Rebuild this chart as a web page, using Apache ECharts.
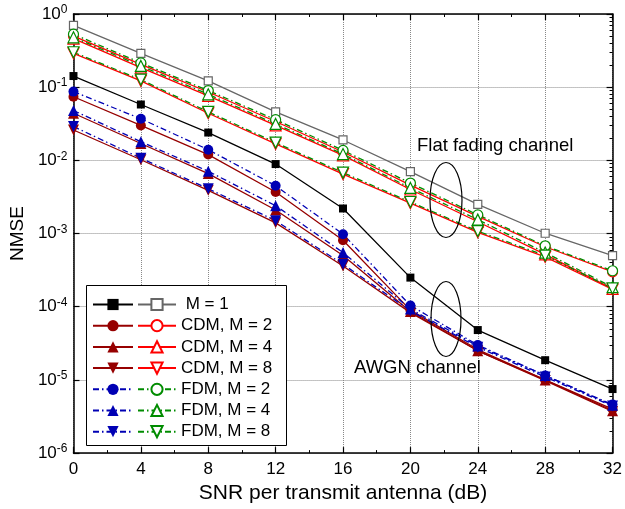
<!DOCTYPE html>
<html>
<head>
<meta charset="utf-8">
<script src="https://cdn.jsdelivr.net/npm/echarts@6/dist/echarts.min.js"></script>
<style>
  html, body { margin: 0; padding: 0; background: #fff; }
  #chart { width: 625px; height: 509px; }
</style>
</head>
<body>
<div id="chart"></div>
<script>
// SNR points (dB)
var snr = [0, 4, 8, 12, 16, 20, 24, 28, 32]

// AWGN channel (filled markers)
var m1Awgn = [0.142, 0.058, 0.024, 0.0089, 0.0022, 0.00025, 4.8e-5, 1.86e-5, 7.5e-6]
var cdm2Awgn = [0.074, 0.030, 0.012, 0.0037, 0.00081, 9.0e-5, 2.6e-5, 1.0e-5, 4.0e-6]
var cdm4Awgn = [0.044, 0.017, 0.0066, 0.0021, 0.00050, 8.6e-5, 2.5e-5, 1.0e-5, 3.8e-6]
var cdm8Awgn = [0.026, 0.0102, 0.0039, 0.0014, 0.00036, 8.3e-5, 2.5e-5, 9.8e-6, 3.7e-6]
var fdm2Awgn = [0.087, 0.037, 0.0140, 0.0045, 0.00098, 1.04e-4, 3.0e-5, 1.15e-5, 4.6e-6]
var fdm4Awgn = [0.048, 0.018, 0.0071, 0.0024, 0.00055, 9.3e-5, 2.9e-5, 1.15e-5, 4.5e-6]
var fdm8Awgn = [0.029, 0.0107, 0.0041, 0.0015, 0.00038, 8.8e-5, 2.8e-5, 1.1e-5, 4.4e-6]

// flat fading channel (open markers)
var m1Flat = [0.70, 0.29, 0.122, 0.046, 0.019, 0.0070, 0.0025, 0.00101, 0.0005]
var cdm2Flat = [0.50, 0.205, 0.086, 0.034, 0.0130, 0.0046, 0.00172, 0.00066, 0.00030]
var cdm4Flat = [0.46, 0.185, 0.076, 0.030, 0.0117, 0.0040, 0.00145, 0.00052, 0.000175]
var cdm8Flat = [0.29, 0.122, 0.044, 0.0168, 0.0065, 0.0026, 0.00104, 0.00048, 0.000172]
var fdm2Flat = [0.53, 0.215, 0.090, 0.036, 0.0137, 0.0049, 0.00180, 0.00068, 0.00031]
var fdm4Flat = [0.48, 0.195, 0.080, 0.0315, 0.0122, 0.0042, 0.00155, 0.00055, 0.000185]
var fdm8Flat = [0.30, 0.127, 0.046, 0.0175, 0.0068, 0.0027, 0.00108, 0.00050, 0.000178]

var flatNames = ['M = 1', 'CDM, M = 2', 'CDM, M = 4', 'CDM, M = 8', 'FDM, M = 2', 'FDM, M = 4', 'FDM, M = 8']
var awgnNames = flatNames.map(function (n) { return 'awgn ' + n })

var font = 'Liberation Sans, Arial, sans-serif'
var dashDot = [6, 3, 1.5, 3]

function pairs (vals) {
  return vals.map(function (v, i) { return [snr[i], v] })
}

function line (name, vals, color, symbol, size, rotate, filled, dashed) {
  return {
    name: name,
    type: 'line',
    data: pairs(vals),
    symbol: symbol,
    symbolSize: size,
    symbolRotate: rotate,
    showAllSymbol: true,
    z: filled ? 3 : 2,
    lineStyle: { color: color, width: 1.3, type: dashed ? dashDot : 'solid' },
    itemStyle: {
      color: filled ? color : '#fff',
      borderColor: color,
      borderWidth: filled ? 0 : 1.2,
      opacity: 1
    },
    emphasis: { disabled: true },
    animation: false
  }
}

var darkRed = '#960000'
var blue = '#0000b4'
var red = '#ff0000'
var green = '#008c00'

var series = [
  line(awgnNames[0], m1Awgn, '#000', 'rect', 8, 0, true, false),
  line(awgnNames[1], cdm2Awgn, darkRed, 'circle', 10, 0, true, false),
  line(awgnNames[2], cdm4Awgn, darkRed, 'triangle', 11, 0, true, false),
  line(awgnNames[3], cdm8Awgn, darkRed, 'triangle', 11, 180, true, false),
  line(awgnNames[4], fdm2Awgn, blue, 'circle', 10, 0, true, true),
  line(awgnNames[5], fdm4Awgn, blue, 'triangle', 11, 0, true, true),
  line(awgnNames[6], fdm8Awgn, blue, 'triangle', 11, 180, true, true),
  line(flatNames[0], m1Flat, '#666', 'rect', 8, 0, false, false),
  line(flatNames[1], cdm2Flat, red, 'circle', 10, 0, false, false),
  line(flatNames[2], cdm4Flat, red, 'triangle', 11, 0, false, false),
  line(flatNames[3], cdm8Flat, red, 'triangle', 11, 180, false, false),
  line(flatNames[4], fdm2Flat, green, 'circle', 10, 0, false, true),
  line(flatNames[5], fdm4Flat, green, 'triangle', 11, 0, false, true),
  line(flatNames[6], fdm8Flat, green, 'triangle', 11, 180, false, true)
]

var legendText = { fontFamily: font, fontSize: 17, color: '#000', lineHeight: 21 }

function xAx (pos) {
  return {
    type: 'value', position: pos, min: 0, max: 32, interval: 4,
    axisLine: { show: true, onZero: false, lineStyle: { color: '#000', width: 1.5 } },
    axisTick: { show: true, inside: true, length: 6, lineStyle: { color: '#000', width: 1.2 } },
    minorTick: { show: true, splitNumber: 2, length: 3, lineStyle: { color: '#000', width: 1 } },
    axisLabel: { show: pos === 'bottom', fontFamily: font, fontSize: 17, color: '#000', margin: 8 },
    splitLine: { show: pos === 'bottom', lineStyle: { color: '#888', type: [1, 1], width: 1 } },
    name: pos === 'bottom' ? 'SNR per transmit antenna (dB)' : '',
    nameLocation: 'middle',
    nameGap: 24,
    nameTextStyle: { fontFamily: font, fontSize: 21, color: '#000' }
  }
}

function yAx (pos) {
  return {
    type: 'log', logBase: 10, position: pos, min: 1e-6, max: 1, splitNumber: 6,
    axisLine: { show: true, onZero: false, lineStyle: { color: '#000', width: 1.5 } },
    axisTick: { show: true, inside: true, length: 6, lineStyle: { color: '#000', width: 1.2 } },
    minorTick: { show: pos === 'right', splitNumber: 9, length: 3, lineStyle: { color: '#000', width: 1 } },
    axisLabel: {
      show: pos === 'left',
      margin: 6,
      formatter: function (v) {
        return '{b|10}{s|' + Math.round(Math.log10(v)) + '}'
      },
      rich: {
        b: { fontFamily: font, fontSize: 17, color: '#000', lineHeight: 20 },
        s: { fontFamily: font, fontSize: 12, color: '#000', verticalAlign: 'top', lineHeight: 12 }
      }
    },
    splitLine: { show: pos === 'left', lineStyle: { color: '#888', type: [1, 1], width: 1 } },
    name: pos === 'left' ? 'NMSE' : '',
    nameLocation: 'middle',
    nameGap: 38,
    nameRotate: 90,
    nameTextStyle: { fontFamily: font, fontSize: 19, color: '#000' }
  }
}

var option = {
  backgroundColor: '#fff',
  animation: false,
  grid: { left: 69, right: 11, top: 14, bottom: 54, containLabel: false },
  xAxis: [xAx('bottom'), xAx('top')],
  yAxis: [yAx('left'), yAx('right')],
  legend: [{
    data: awgnNames,
    orient: 'vertical',
    left: 92, top: 294, padding: 0,
    itemWidth: 40, itemHeight: 14, itemGap: 0.2,
    selectedMode: false, z: 10,
    formatter: function () { return ' ' },
    textStyle: legendText
  }, {
    data: flatNames,
    orient: 'vertical',
    left: 137, top: 294, padding: 0,
    itemWidth: 38, itemHeight: 14, itemGap: 0.2,
    selectedMode: false, z: 10,
    formatter: function (n) { return n === 'M = 1' ? ' ' + n : n },
    textStyle: legendText
  }],
  graphic: [
    { type: 'rect', z: 5, shape: { x: 86.5, y: 285.5, width: 200, height: 160 },
      style: { fill: '#fff', stroke: '#000', lineWidth: 1 } },
    { type: 'ellipse', z: 5, shape: { cx: 446, cy: 200, rx: 16, ry: 37.5 },
      style: { fill: 'none', stroke: '#000', lineWidth: 1.2 } },
    { type: 'ellipse', z: 5, shape: { cx: 446, cy: 319, rx: 15, ry: 37.5 },
      style: { fill: 'none', stroke: '#000', lineWidth: 1.2 } },
    { type: 'text', z: 5, left: 417, top: 136,
      style: { text: 'Flat fading channel', font: '18.5px ' + font, fill: '#000' } },
    { type: 'text', z: 5, left: 354, top: 358,
      style: { text: 'AWGN channel', font: '18.5px ' + font, fill: '#000' } }
  ],
  series: series
}

var chart = echarts.init(document.getElementById('chart'), null, { renderer: 'canvas' })
chart.setOption(option)
</script>
</body>
</html>
